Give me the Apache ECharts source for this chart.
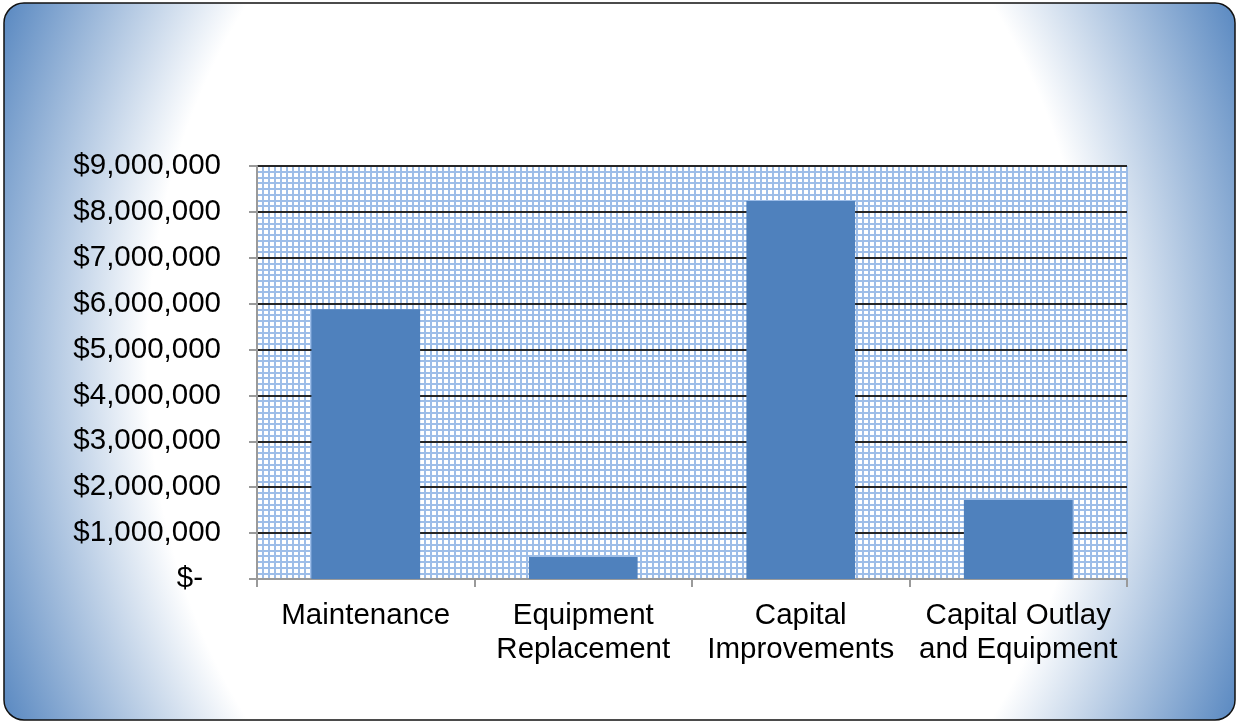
<!DOCTYPE html>
<html>
<head>
<meta charset="utf-8">
<script src="https://cdn.jsdelivr.net/npm/echarts@6/dist/echarts.min.js"></script>
<style>
  html, body { margin: 0; padding: 0; background: #ffffff; }
  #chart { width: 1236px; height: 723px; }
</style>
</head>
<body>
<div id="chart"></div>
<script>
// Budget by program area
const categories = [
  'Maintenance',
  'Equipment\nReplacement',
  'Capital\nImprovements',
  'Capital Outlay\nand Equipment'
];
const amounts = [5880000, 480000, 8240000, 1720000];

// Value axis range and step (dollars)
const yMin = 0;
const yMax = 9000000;
const yStep = 1000000;

// Fine background mesh: count of vertical cells across the plot
const meshCells = 145;

const FONT = '"Liberation Sans", Arial, sans-serif';
const BAR_BLUE = '#4F81BD';
const MESH_BLUE = '#9dbde8';

// Frame geometry; the fill is stretched vertically so the radial
// gradient becomes an ellipse (taller than wide, relative to a circle)
const FRAME = { x: 4, y: 3, w: 1231, h: 717 };
const STRETCH = 1.23;

function money(v) {
  if (v === 0) return '{z|$-}';
  return '$' + v.toLocaleString('en-US');
}

const chart = echarts.init(document.getElementById('chart'), null, { renderer: 'canvas' });

const localH = FRAME.h / STRETCH;

chart.setOption({
  backgroundColor: 'transparent',
  animation: false,
  graphic: [{
    type: 'rect',
    z: -10,
    x: FRAME.x,
    y: FRAME.y,
    scaleY: STRETCH,
    shape: { x: 0, y: 0, width: FRAME.w, height: localH, r: 18 },
    style: {
      fill: new echarts.graphic.RadialGradient(FRAME.w / 2, localH / 2, 715, [
        { offset: 0, color: '#ffffff' },
        { offset: 0.66, color: '#ffffff' },
        { offset: 0.97, color: BAR_BLUE }
      ], true),
      stroke: null
    },
    silent: true
  }, {
    type: 'rect',
    z: -9,
    shape: { x: FRAME.x, y: FRAME.y, width: FRAME.w, height: FRAME.h, r: 20 },
    style: { fill: null, stroke: '#111111', lineWidth: 1.5 },
    silent: true
  }],
  grid: {
    left: 257,
    right: 109,
    top: 166,
    bottom: 144,
    show: true,
    backgroundColor: '#ffffff',
    borderWidth: 0
  },
  xAxis: [{
    type: 'category',
    data: categories,
    z: 2,
    axisLine: { show: true, lineStyle: { color: '#9a9a9a', width: 2 } },
    axisTick: { show: true, length: 8, lineStyle: { color: '#9a9a9a', width: 2 } },
    axisLabel: {
      color: '#000',
      fontFamily: FONT,
      fontSize: 29.5,
      lineHeight: 34,
      margin: 20,
      interval: 0
    },
    splitLine: { show: false }
  }, {
    type: 'value',
    min: 0,
    max: meshCells,
    interval: 1,
    position: 'top',
    z: 0,
    axisLine: { show: false },
    axisTick: { show: false },
    axisLabel: { show: false },
    splitLine: { show: true, lineStyle: { color: MESH_BLUE, width: 2 } }
  }],
  yAxis: {
    type: 'value',
    min: yMin,
    max: yMax,
    interval: yStep,
    z: 1,
    axisLine: { show: true, lineStyle: { color: '#9a9a9a', width: 2 } },
    axisTick: { show: true, length: 8, lineStyle: { color: '#9a9a9a', width: 2 } },
    axisLabel: {
      color: '#000',
      fontFamily: FONT,
      fontSize: 29.5,
      margin: 36,
      formatter: money,
      rich: {
        z: { color: '#000', fontFamily: FONT, fontSize: 29.5, padding: [0, 18, 0, 0] }
      }
    },
    splitLine: { show: true, lineStyle: { color: '#262626', width: 2 } },
    minorTick: { show: false, splitNumber: 8 },
    minorSplitLine: { show: true, lineStyle: { color: MESH_BLUE, width: 2 } }
  },
  series: [{
    type: 'bar',
    xAxisIndex: 0,
    data: amounts,
    barCategoryGap: '50%',
    itemStyle: { color: BAR_BLUE },
    z: 3
  }]
});
</script>
</body>
</html>
